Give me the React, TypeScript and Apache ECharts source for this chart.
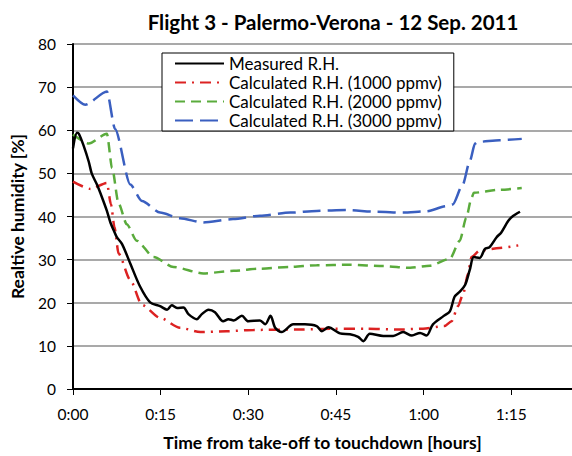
import React, { useEffect, useRef } from "react";
import * as echarts from "echarts";

const xTicks = [0, 15, 30, 45, 60, 75];

const measuredT = [0, 0.7, 1.0, 1.8, 2.7, 3.2, 4.1, 5.0, 5.8, 6.4, 7.0, 7.5, 8.4, 9.8, 11.5, 13.2, 14.9, 16.1, 16.9, 17.8, 18.9, 19.8, 21.2, 22.0, 23.2, 24.3, 25.7, 26.6, 27.5, 28.9, 30.0, 32.0, 32.9, 33.8, 34.6, 35.7, 37.7, 39.7, 41.7, 42.6, 43.7, 45.7, 47.4, 48.8, 49.7, 50.8, 53.1, 54.8, 56.5, 58.0, 59.4, 60.5, 61.6, 63.4, 64.5, 65.3, 66.2, 67.1, 67.9, 68.6, 69.6, 70.5, 71.3, 72.5, 73.3, 74.5, 75.3, 76.5];
const measuredRH = [55.8, 59.4, 59.2, 56.5, 52.7, 50.0, 47.4, 44.3, 41.3, 38.6, 36.7, 35.2, 33.6, 29.1, 23.7, 20.1, 19.2, 18.4, 19.4, 18.8, 18.9, 17.3, 16.2, 17.3, 18.4, 17.8, 15.7, 16.2, 15.9, 17.0, 15.7, 15.9, 15.0, 17.0, 14.2, 13.2, 15.0, 15.0, 14.6, 13.4, 14.3, 12.9, 12.7, 12.1, 11.1, 12.8, 12.3, 12.3, 13.2, 12.4, 13.0, 12.4, 15.0, 16.9, 18.0, 21.4, 22.6, 24.1, 27.6, 30.6, 30.4, 32.5, 32.9, 35.2, 36.3, 39.0, 40.1, 41.1];

const redT = [0, 3.0, 5.8, 6.5, 7.1, 7.8, 9.8, 11.8, 14.9, 18.3, 21.8, 26.3, 30.9, 38.9, 44.5, 50.3, 56.0, 59.9, 63.6, 64.8, 65.9, 66.8, 67.6, 68.2, 69.6, 73.0, 76.2];
const redRH = [48.1, 46.4, 47.8, 42.8, 37.5, 31.4, 25.3, 19.5, 16.5, 14.2, 13.2, 13.4, 13.7, 13.8, 14.0, 14.0, 13.8, 14.0, 14.6, 15.7, 19.2, 22.2, 26.8, 30.6, 32.1, 32.7, 33.3];

const greenT = [0, 2.7, 5.8, 6.7, 7.8, 9.2, 10.9, 13.8, 17.2, 22.3, 27.5, 32.0, 37.2, 41.7, 47.4, 53.1, 57.7, 61.1, 64.5, 66.2, 67.3, 68.2, 68.6, 73.0, 76.8];
const greenRH = [59.0, 56.9, 59.2, 51.2, 43.0, 38.2, 34.4, 30.6, 28.3, 26.8, 27.4, 27.9, 28.3, 28.7, 28.8, 28.5, 28.1, 28.6, 30.2, 34.4, 39.7, 44.3, 45.5, 46.2, 46.6];

const blueT = [0, 2.1, 5.8, 7.2, 9.8, 11.8, 14.9, 18.3, 22.3, 27.4, 32.0, 37.2, 41.7, 46.8, 52.0, 56.5, 60.5, 63.9, 65.0, 66.7, 67.9, 68.8, 69.3, 73.0, 76.8];
const blueRH = [68.1, 65.9, 69.0, 60.3, 47.4, 43.6, 40.9, 39.6, 38.6, 39.4, 40.2, 40.9, 41.3, 41.5, 41.1, 40.9, 41.2, 42.4, 42.8, 47.4, 52.8, 56.9, 57.3, 57.7, 58.0];

const zip = (t: number[], v: number[]) => t.map((x, i) => [x, v[i]]);
const FONT = "Lato, 'Open Sans', sans-serif";

export default function App() {
  const ref = useRef<HTMLDivElement>(null);
  useEffect(() => {
    if (!ref.current) return;
    const chart = echarts.init(ref.current, null, { renderer: "svg" });
    const fmt = (v: number) => {
      const h = Math.floor(v / 60);
      const m = Math.round(v - h * 60);
      return `${h}:${m < 10 ? "0" + m : m}`;
    };
    chart.setOption({
      animation: false,
      backgroundColor: "#ffffff",
      textStyle: { fontFamily: FONT },
      title: {
        text: "Flight 3 - Palermo-Verona - 12 Sep. 2011",
        left: 328,
        textAlign: "center",
        top: 6,
        textStyle: { fontFamily: FONT, fontSize: 20.5, fontWeight: "bold", color: "#000" },
      },
      legend: {
        orient: "vertical",
        left: 162,
        top: 53,
        padding: [2, 12, 2, 12],
        borderColor: "#000",
        borderWidth: 1,
        backgroundColor: "#fff",
        itemWidth: 49,
        itemHeight: 14,
        itemGap: 2,
        itemStyle: { opacity: 0 },
        textStyle: { fontFamily: FONT, fontSize: 17, color: "#000" },
        data: [
          "Measured R.H.",
          "Calculated R.H. (1000 ppmv)",
          "Calculated R.H. (2000 ppmv)",
          "Calculated R.H. (3000 ppmv)",
        ],
      },
      grid: { left: 73, right: 0, top: 44, bottom: 62 },
      xAxis: {
        type: "value",
        min: 0,
        max: 85.4,
        interval: 15,
        name: "Time from take-off to touchdown [hours]",
        nameLocation: "middle",
        nameGap: 44,
        nameTextStyle: { fontFamily: FONT, fontSize: 17.5, fontWeight: "bold", color: "#000" },
        axisLine: { show: true, lineStyle: { color: "#000", width: 2 } },
        axisTick: { show: true, length: 6, lineStyle: { color: "#000", width: 1 }, customValues: xTicks },
        axisLabel: {
          customValues: xTicks,
          formatter: (v: number) => fmt(v),
          fontFamily: FONT,
          fontSize: 15.5,
          color: "#000",
          margin: 17,
        },
        splitLine: { show: false },
      },
      yAxis: {
        type: "value",
        min: 0,
        max: 80,
        interval: 10,
        name: "Realtive humidity [%]",
        nameLocation: "middle",
        nameGap: 47,
        nameTextStyle: { fontFamily: FONT, fontSize: 17.5, fontWeight: "bold", color: "#000" },
        axisLine: { show: true, lineStyle: { color: "#000", width: 2 } },
        axisTick: { show: true, length: 6, lineStyle: { color: "#000", width: 1 } },
        axisLabel: { fontFamily: FONT, fontSize: 15.5, color: "#000", margin: 17 },
        splitLine: { show: true, lineStyle: { color: "#8c8c8c", width: 1.5 } },
      },
      series: [
        {
          name: "Calculated R.H. (3000 ppmv)",
          type: "line",
          data: zip(blueT, blueRH),
          symbol: "none",
          smooth: 0.25,
          smoothMonotone: "x",
          color: "#3a5fc0",
          lineStyle: { color: "#3a5fc0", width: 2.5, type: [18, 7] },
          z: 2,
        },
        {
          name: "Calculated R.H. (2000 ppmv)",
          type: "line",
          data: zip(greenT, greenRH),
          symbol: "none",
          smooth: 0.25,
          smoothMonotone: "x",
          color: "#5aab3c",
          lineStyle: { color: "#5aab3c", width: 2.5, type: [10, 6] },
          z: 3,
        },
        {
          name: "Calculated R.H. (1000 ppmv)",
          type: "line",
          data: zip(redT, redRH),
          symbol: "none",
          smooth: 0.25,
          smoothMonotone: "x",
          color: "#dc2222",
          lineStyle: { color: "#dc2222", width: 2.5, type: [11, 6, 2, 6] },
          z: 4,
        },
        {
          name: "Measured R.H.",
          type: "line",
          data: zip(measuredT, measuredRH),
          symbol: "none",
          smooth: 0.3,
          color: "#000",
          lineStyle: { color: "#000", width: 2.5 },
          z: 5,
        },
      ],
    });
    return () => chart.dispose();
  }, []);
  return <div ref={ref} style={{ width: 572, height: 456, position: "absolute", left: 0, top: 0 }} />;
}
